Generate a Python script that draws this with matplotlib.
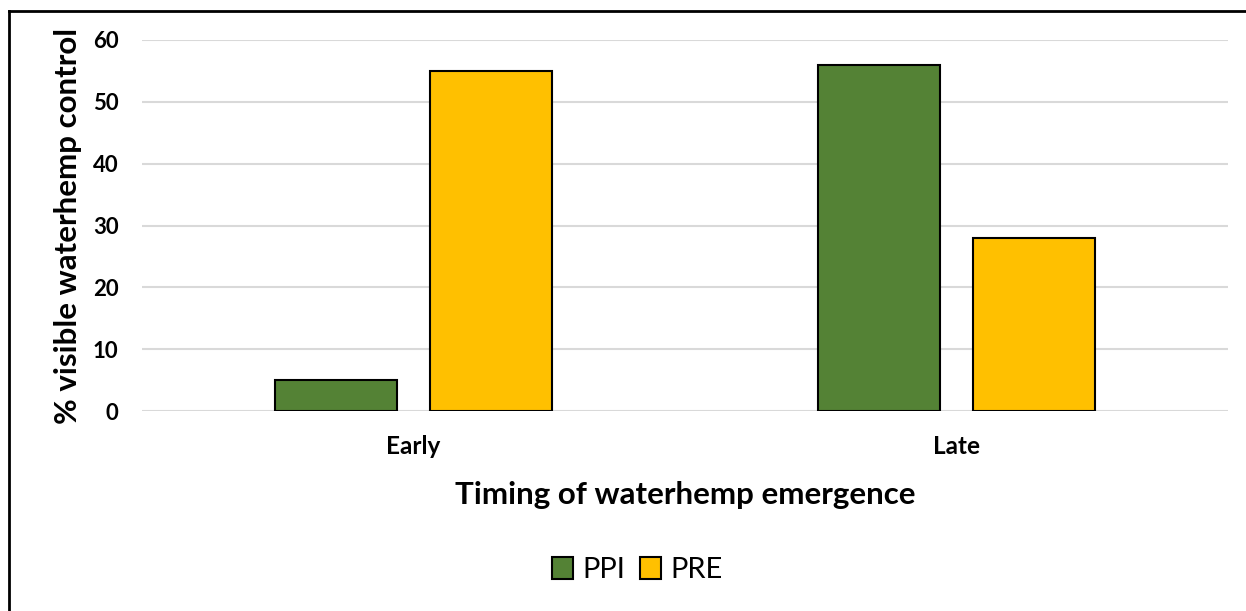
import matplotlib

matplotlib.use("Agg")
import matplotlib.pyplot as plt
import numpy as np
from matplotlib.lines import Line2D

plt.rcParams["font.family"] = ["Lato", "DejaVu Sans"]

categories = ["Early", "Late"]
ppi = [5, 56]
pre = [55, 28]
series_names = ["PPI", "PRE"]
yticks = [0, 10, 20, 30, 40, 50, 60]

GREEN = "#548235"
YELLOW = "#FFC000"

fig = plt.figure(figsize=(12.46, 6.11), dpi=100)
ax = fig.add_axes([142 / 1246, 1 - 411 / 611, (1228 - 142) / 1246, (411 - 40) / 611])

x = np.arange(len(categories))
w = 0.225
off = 0.142
ax.bar(x - off, ppi, w, color=GREEN, edgecolor="black", linewidth=1.5, label=series_names[0], zorder=3)
ax.bar(x + off, pre, w, color=YELLOW, edgecolor="black", linewidth=1.5, label=series_names[1], zorder=3)

ax.set_xlim(-0.5, len(categories) - 0.5)
ax.set_ylim(0, 60)
ax.set_yticks(yticks)
ax.set_yticklabels([str(t) for t in yticks], fontsize=16, fontweight="bold")
ax.set_xticks(x)
ax.set_xticklabels(categories, fontsize=17.5, fontweight="bold")
ax.tick_params(length=0)
ax.tick_params(axis="y", pad=17)
ax.tick_params(axis="x", pad=17)
ax.grid(axis="y", color="#d9d9d9", linewidth=1.5, zorder=0)
for s in ax.spines.values():
    s.set_visible(False)

ax.set_ylabel("% visible waterhemp control", fontsize=22.5, fontweight="bold", labelpad=8)
ax.set_xlabel("Timing of waterhemp emergence", fontsize=22.5, fontweight="bold", labelpad=17)

fig.legend(loc="center", bbox_to_anchor=(637 / 1246, 1 - 570 / 611), ncol=2, frameon=False,
           fontsize=21, handlelength=0.75, handleheight=0.75, handletextpad=0.3, columnspacing=0.5)

# outer frame (left and top edges visible in the source)
fig.add_artist(Line2D([9 / 1246, 9 / 1246], [0, 1 - 11 / 611], transform=fig.transFigure, color="black", lw=2))
fig.add_artist(Line2D([9 / 1246, 1], [1 - 11 / 611, 1 - 11 / 611], transform=fig.transFigure, color="black", lw=2))

fig.savefig("out.png", dpi=100)
